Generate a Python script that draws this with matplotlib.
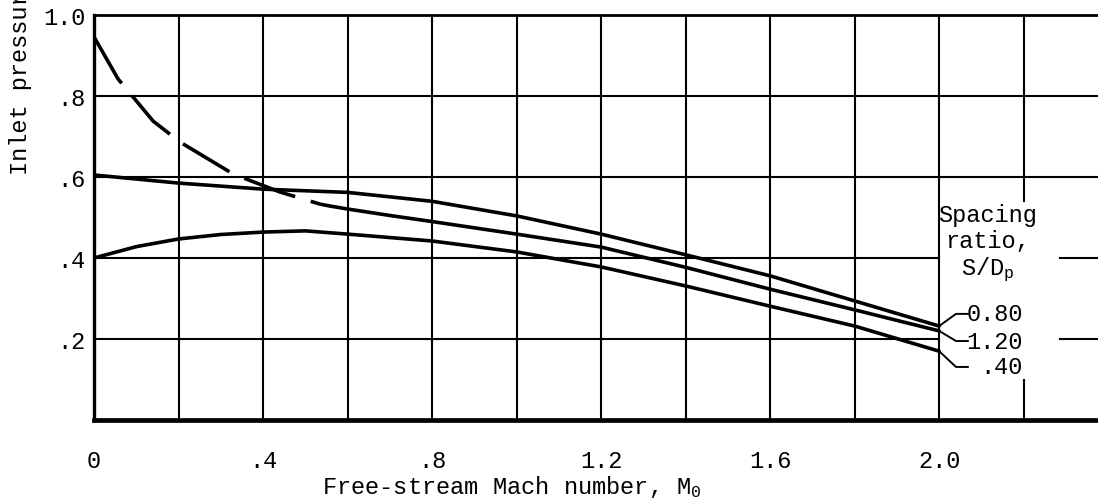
import matplotlib.pyplot as plt

plt.rcParams['font.family'] = ['Liberation Mono', 'DejaVu Sans Mono']
plt.rcParams['mathtext.default'] = 'regular'

# Curves: x = Mach number, y = inlet pressure
mach_080 = [0.0, 0.1, 0.2, 0.4, 0.6, 0.8, 1.0, 1.2, 1.4, 1.6, 1.8, 2.0]
p_080 = [0.605, 0.595, 0.585, 0.570, 0.562, 0.540, 0.504, 0.459, 0.408, 0.356, 0.294, 0.232]

mach_120_dash = [0.0, 0.057, 0.14, 0.204, 0.33, 0.44, 0.535, 0.56]
p_120_dash = [0.946, 0.842, 0.738, 0.686, 0.607, 0.563, 0.533, 0.528]
mach_120 = [0.56, 0.6, 0.7, 0.8, 1.0, 1.2, 1.4, 1.6, 1.8, 2.0]
p_120 = [0.528, 0.521, 0.505, 0.490, 0.459, 0.427, 0.377, 0.323, 0.272, 0.220]

mach_040 = [0.0, 0.1, 0.2, 0.3, 0.4, 0.5, 0.6, 0.8, 1.0, 1.2, 1.4, 1.6, 1.8, 2.0]
p_040 = [0.400, 0.428, 0.447, 0.458, 0.464, 0.467, 0.459, 0.442, 0.415, 0.378, 0.331, 0.281, 0.232, 0.170]

spacing_labels = ['0.80', '1.20', '.40']
xticks = [0, 0.4, 0.8, 1.2, 1.6, 2.0]
xtick_labels = ['0', '.4', '.8', '1.2', '1.6', '2.0']
yticks = [0.2, 0.4, 0.6, 0.8, 1.0]
ytick_labels = ['.2', '.4', '.6', '.8', '1.0']
xgrid = [0.2, 0.4, 0.6, 0.8, 1.0, 1.2, 1.4, 1.6, 1.8, 2.0, 2.2]

fs = 17
fig = plt.figure(figsize=(10.98, 5.02), dpi=100)
ax = fig.add_axes([94 / 1098, 81 / 502, 1 - 94 / 1098, 405 / 502])
xmax = 2.376
ax.set_xlim(0, xmax)
ax.set_ylim(0, 1.0)

# grid, with gaps where the labels sit
gw = 1.5
for xv in xgrid:
    if xv == 2.2:
        ax.plot([xv, xv], [0, 0.10], color='black', lw=gw)
        ax.plot([xv, xv], [0.54, 1.0], color='black', lw=gw)
    else:
        ax.plot([xv, xv], [0, 1.0], color='black', lw=gw)
for yv in yticks[:-1]:
    if yv < 0.5:
        ax.plot([0, 2.0], [yv, yv], color='black', lw=gw)
        ax.plot([2.286, xmax], [yv, yv], color='black', lw=gw)
    else:
        ax.plot([0, xmax], [yv, yv], color='black', lw=gw)

lw = 2.6
ax.plot(mach_080, p_080, color='black', lw=lw, solid_capstyle='round')
ax.plot(mach_120_dash, p_120_dash, color='black', lw=lw, dashes=(15, 4.5))
ax.plot(mach_120, p_120, color='black', lw=lw, solid_capstyle='round')
ax.plot(mach_040, p_040, color='black', lw=lw, solid_capstyle='round')

# spine styling
ax.spines['right'].set_visible(False)
ax.spines['top'].set_linewidth(2.0)
ax.spines['left'].set_linewidth(2.4)
ax.spines['bottom'].set_linewidth(3.4)

ax.set_xticks(xticks)
ax.set_xticklabels(xtick_labels)
ax.set_yticks(yticks)
ax.set_yticklabels(ytick_labels)
ax.tick_params(axis='both', length=0, labelsize=fs)
ax.tick_params(axis='x', pad=21)
ax.tick_params(axis='y', pad=6)

ax.set_xlabel('Free-stream Mach number, M$_0$', fontsize=fs)
ax.xaxis.set_label_coords(0.416, -0.13)
fig.text(21 / 1098, 1 - 175 / 502, 'Inlet pressure', rotation=90, fontsize=fs,
         ha='center', va='bottom')

# spacing-ratio labels with leader lines
ax.text(2.115, 0.535, 'Spacing\nratio,\nS/D$_p$', fontsize=fs, ha='center', va='top',
        multialignment='center', linespacing=1.15)
ends = [(mach_080[-1], p_080[-1]), (mach_120[-1], p_120[-1]), (mach_040[-1], p_040[-1])]
label_y = [0.262, 0.195, 0.131]
for lab, (xe, ye), ly in zip(spacing_labels, ends, label_y):
    ax.text(2.198, ly, lab, fontsize=fs, ha='right', va='center')
    ax.plot([xe, xe + 0.04, xe + 0.068], [ye, ly, ly], color='black', lw=1.4)

fig.savefig('out.png', dpi=100)
